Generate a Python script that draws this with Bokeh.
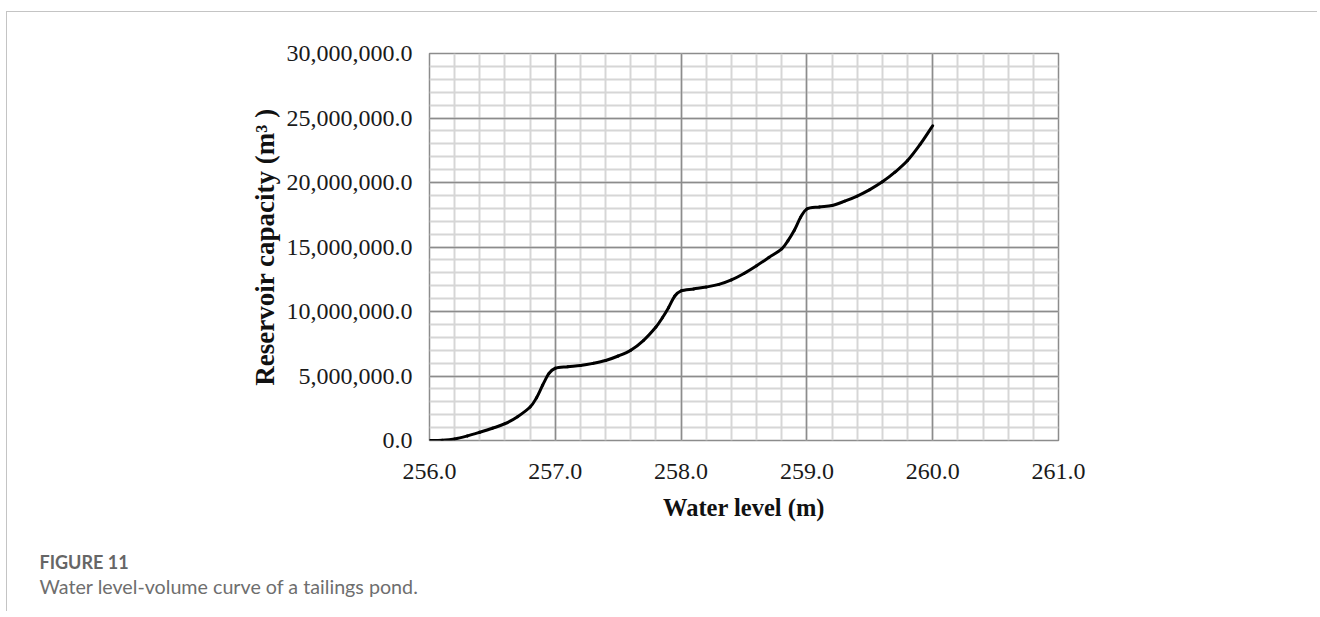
from bokeh.plotting import figure
from bokeh.models import (SingleIntervalTicker, NumeralTickFormatter, Range1d, Grid, Title)
from bokeh.embed import file_html
from bokeh.resources import INLINE

# ---- data ----
water_level = [256.0, 256.1, 256.2, 256.3, 256.4, 256.5, 256.6, 256.7, 256.8, 256.85,
               256.9, 256.95, 257.0, 257.1, 257.2, 257.3, 257.4, 257.5, 257.6, 257.7,
               257.8, 257.85, 257.9, 257.95, 258.0, 258.1, 258.2, 258.3, 258.4, 258.5,
               258.6, 258.7, 258.8, 258.85, 258.9, 258.95, 259.0, 259.1, 259.2, 259.3,
               259.4, 259.5, 259.6, 259.7, 259.8, 259.9, 260.0]
capacity_m = [0.0, 0.02, 0.12, 0.35, 0.64, 0.95, 1.3, 1.85, 2.6, 3.3,
              4.3, 5.2, 5.6, 5.72, 5.82, 5.98, 6.2, 6.55, 7.0, 7.75,
              8.8, 9.5, 10.3, 11.2, 11.6, 11.75, 11.9, 12.1, 12.45, 12.95,
              13.55, 14.2, 14.85, 15.5, 16.3, 17.3, 17.95, 18.1, 18.22, 18.55,
              18.95, 19.45, 20.05, 20.8, 21.7, 22.95, 24.4]
capacity = [v * 1e6 for v in capacity_m]

x_label = "Water level (m)"
y_label = "Reservoir capacity (m\u00b3 )"
caption_title = "FIGURE 11"
caption_text = "Water level-volume curve of a tailings pond."

W, H = 1311, 600
p = figure(width=W, height=H, output_backend="svg", toolbar_location=None,
           x_range=Range1d(256, 261), y_range=Range1d(0, 30e6),
           min_border_left=422, min_border_right=260, min_border_top=41,
           min_border_bottom=172)
p.styles = {"border-top": "1.5px solid #c4c4c4", "border-left": "1.5px solid #c4c4c4",
            "margin-top": "11px", "margin-left": "6px"}

xticker = SingleIntervalTicker(interval=1, num_minor_ticks=5)
yticker = SingleIntervalTicker(interval=5e6, num_minor_ticks=5)
p.xaxis.ticker = xticker
p.yaxis.ticker = yticker
p.xaxis.formatter = NumeralTickFormatter(format="0.0")
p.yaxis.formatter = NumeralTickFormatter(format="0,0.0")

for ax in (p.xaxis[0], p.yaxis[0]):
    ax.major_tick_in = 0
    ax.major_tick_out = 0
    ax.minor_tick_in = 0
    ax.minor_tick_out = 0
    ax.axis_line_color = None
    ax.major_label_text_font = "Liberation Serif"
    ax.major_label_text_font_size = "24px"
    ax.major_label_text_color = "#1a1a1a"
    ax.axis_label_text_font = "Liberation Serif"
    ax.axis_label_text_font_style = "bold"
    ax.axis_label_text_color = "#111111"

p.xaxis.axis_label = x_label
p.yaxis.axis_label = y_label
p.xaxis.axis_label_text_font_size = "24.5px"
p.yaxis.axis_label_text_font_size = "27px"
p.xaxis.major_label_standoff = 23
p.yaxis.major_label_standoff = 17
p.xaxis.axis_label_standoff = 12
p.yaxis.axis_label_standoff = 4

# minor grid from the default grids, major grid drawn on top with extra grids
for g in (p.xgrid[0], p.ygrid[0]):
    g.grid_line_color = None
    g.minor_grid_line_color = "#d6d6d6"
    g.minor_grid_line_width = 2
p.add_layout(Grid(dimension=0, ticker=xticker, grid_line_color="#8c8c8c", grid_line_width=1.5))
p.add_layout(Grid(dimension=1, ticker=yticker, grid_line_color="#8c8c8c", grid_line_width=1.5))

p.outline_line_color = "#8c8c8c"
p.outline_line_width = 1.5

# smoothed line through the data points (Catmull-Rom -> cubic Bezier segments)
n = len(water_level)
x0s, y0s, x1s, y1s, cx0, cy0, cx1, cy1 = [], [], [], [], [], [], [], []
for i in range(n - 1):
    xa, ya = water_level[i], capacity[i]
    xb, yb = water_level[i + 1], capacity[i + 1]
    xp, yp = (water_level[i - 1], capacity[i - 1]) if i > 0 else (xa, ya)
    xn, yn = (water_level[i + 2], capacity[i + 2]) if i + 2 < n else (xb, yb)
    x0s.append(xa); y0s.append(ya); x1s.append(xb); y1s.append(yb)
    cx0.append(xa + (xb - xp) / 6.0); cy0.append(ya + (yb - yp) / 6.0)
    cx1.append(xb - (xn - xa) / 6.0); cy1.append(yb - (yn - ya) / 6.0)
p.bezier(x0=x0s, y0=y0s, x1=x1s, y1=y1s, cx0=cx0, cy0=cy0, cx1=cx1, cy1=cy1,
         line_color="black", line_width=3, line_cap="round")

# caption below the chart (a tiny spacer title gives the gap above it)
spacer = Title(text=" ", align="left", offset=-390, standoff=22, text_font_size="1px")
t1 = Title(text=caption_title, align="left", offset=-390, standoff=0,
           text_font="Lato", text_font_style="bold", text_font_size="18px",
           text_color="#666666")
t2 = Title(text=caption_text, align="left", offset=-390, standoff=0,
           text_font="Lato", text_font_style="normal", text_font_size="19.7px",
           text_color="#6e6e6e")
p.add_layout(spacer, "below")
p.add_layout(t1, "below")
p.add_layout(t2, "below")

open("out.html", "w").write(file_html(p, INLINE))
